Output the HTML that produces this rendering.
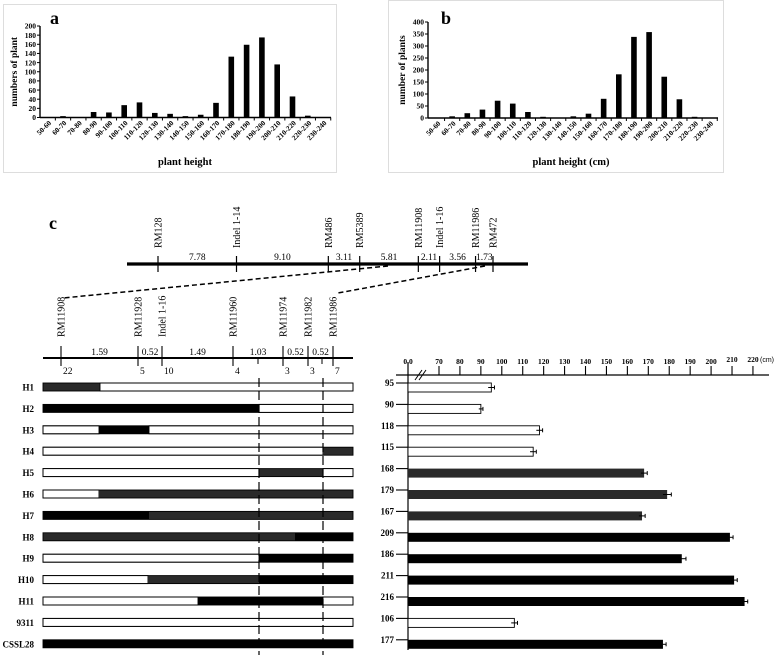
<!DOCTYPE html>
<html><head><meta charset="utf-8">
<style>
html,body{margin:0;padding:0;background:#fff;}
svg{display:block;font-family:"Liberation Serif",serif;}
.b{font-weight:bold;}
</style></head>
<body>
<svg id="fig" width="778" height="655" viewBox="0 0 778 655" xmlns="http://www.w3.org/2000/svg">
<rect x="3.5" y="4.5" width="333" height="168" fill="#fff" stroke="#ddd"/>
<rect x="388.5" y="0.5" width="335" height="172" fill="#fff" stroke="#ddd"/>
<g id="pa"></g>
<g id="pb"></g>
<g id="pc"></g>
<g id="pd"></g>
</svg>
<script>
const NS="http://www.w3.org/2000/svg";
const histCats=["50-60","60-70","70-80","80-90","90-100","100-110","110-120","120-130","130-140","140-150","150-160","160-170","170-180","180-190","190-200","200-210","210-220","220-230","230-240"];
const histA=[0,3,0,12,11,27,33,10,8,3,6,32,133,159,175,116,46,4,0];
const histB=[0,7,20,35,72,60,25,5,0,7,18,80,182,338,358,172,78,5,0];
const ticksA=[0,20,40,60,80,100,120,140,160,180,200];
const ticksB=[0,50,100,150,200,250,300,350,400];
const topMarkers=["RM128","Indel 1-14","RM486","RM5389","RM11908","Indel 1-16","RM11986","RM472"];
const topPos=[0,7.78,16.88,19.99,25.80,27.91,31.47,33.20];
const topDist=["7.78","9.10","3.11","5.81","2.11","3.56","1.73"];
const botMarkers=["RM11908","RM11928","Indel 1-16","RM11960","RM11974","RM11982","RM11986"];
const botX=[61,138,162,233,283,308,333];
const botDist=["1.59","0.52","1.49","1.03","0.52","0.52"];
const botCounts=["22","5","10","4","3","3","7"];
const haploNames=["H1","H2","H3","H4","H5","H6","H7","H8","H9","H10","H11","9311","CSSL28"];
const haploSegs=[
 [[43,100,"d"],[100,353,"w"]],
 [[43,259,"k"],[259,353,"w"]],
 [[43,99,"w"],[99,149,"k"],[149,353,"w"]],
 [[43,323,"w"],[323,353,"d"]],
 [[43,259,"w"],[259,323,"d"],[323,353,"w"]],
 [[43,99,"w"],[99,353,"d"]],
 [[43,149,"k"],[149,353,"d"]],
 [[43,295,"d"],[295,353,"k"]],
 [[43,259,"w"],[259,353,"k"]],
 [[43,148,"w"],[148,259,"d"],[259,353,"k"]],
 [[43,198,"w"],[198,323,"k"],[323,353,"w"]],
 [[43,353,"w"]],
 [[43,353,"k"]]
];
const heightVals=[95,90,118,115,168,179,167,209,186,211,216,106,177];
const heightErr=[1.5,1,1.5,1.5,1.5,2,1.5,1.5,2,1.5,1.5,1.5,1.5];
const heightFill=["w","w","w","w","d","d","d","k","k","k","k","w","k"];
const heightTicks=[70,80,90,100,110,120,130,140,150,160,170,180,190,200,210,220];

function el(tag,attrs,parent,text){const e=document.createElementNS(NS,tag);for(const k in attrs)e.setAttribute(k,attrs[k]);if(text!==undefined)e.textContent=text;parent.appendChild(e);return e;}
const fillOf={w:"#fff",d:"#2a2a2a",k:"#000"};

function hist(g,vals,ticks,cfg){
  const y=v=>cfg.y0-(v/ticks[ticks.length-1])*(cfg.y0-cfg.yTop);
  const x=i=>cfg.x0c+i*cfg.step;
  let t=el("text",{x:cfg.lx,y:cfg.ly,"font-size":18,class:"b"},g,cfg.letter);
  
  
  let ax=el("line",{x1:cfg.ax,y1:cfg.yTop,x2:cfg.ax,y2:cfg.y0,stroke:"#000","stroke-width":1.4},g);
  
  
  let xa=el("line",{x1:cfg.ax,y1:cfg.y0,x2:cfg.xEnd,y2:cfg.y0,stroke:"#000","stroke-width":1.4},g);
  
  
  ticks.forEach(v=>{
    el("line",{x1:cfg.ax-3,y1:y(v),x2:cfg.ax,y2:y(v),stroke:"#000"},g);
    let tl=el("text",{x:cfg.ax-4,y:y(v)+2.7,"font-size":7.5,"text-anchor":"end",class:"b"},g,String(v));
    
    
  });
  vals.forEach((v,i)=>{
    el("line",{x1:x(i)+cfg.step/2,y1:cfg.y0,x2:x(i)+cfg.step/2,y2:cfg.y0+3,stroke:"#000"},g);
    if(v>0){
      let r=el("rect",{x:x(i)-2.8,y:y(v),width:5.6,height:cfg.y0-y(v),fill:"#000"},g);
      
      
    }
    let tl=el("text",{x:0,y:0,"font-size":7.3,"text-anchor":"end",class:"b",transform:`translate(${x(i)+4},${cfg.y0+6}) rotate(-45)`},g,histCats[i]);
    
    
  });
  let xt=el("text",{x:cfg.xtx,y:165,"font-size":10.5,"text-anchor":"middle",class:"b"},g,cfg.xtitle);
  
  
  let yt=el("text",{x:0,y:0,"font-size":9.5,"text-anchor":"middle",class:"b",transform:`translate(${cfg.ytx},${(cfg.y0+cfg.yTop)/2}) rotate(-90)`},g,cfg.ytitle);
  
  
}
hist(document.getElementById("pa"),histA,ticksA,{letter:"a",lx:50,ly:24,ax:40,y0:117.5,yTop:26,x0c:47.7,step:15.3,xEnd:331,xtx:185,xtitle:"plant height",ytx:17,ytitle:"numbers of plant"});
hist(document.getElementById("pb"),histB,ticksB,{letter:"b",lx:441,ly:24,ax:428,y0:118,yTop:22,x0c:437,step:15.15,xEnd:718,xtx:571,xtitle:"plant height (cm)",ytx:405,ytitle:"number of plants"});

const gc=document.getElementById("pc");
let cl=el("text",{x:49,y:229,"font-size":18,class:"b"},gc,"c");


const tx=p=>158+p*(493-158)/33.20;
let tl=el("line",{x1:127,y1:264,x2:528,y2:264,stroke:"#000","stroke-width":3.2},gc);


topMarkers.forEach((m,i)=>{
  const X=tx(topPos[i]);
  el("line",{x1:X,y1:256,x2:X,y2:272,stroke:"#000","stroke-width":1.2},gc);
  let t=el("text",{x:0,y:0,"font-size":10,transform:`translate(${X+3.5},248) rotate(-90)`},gc,m);
  
  
});
topDist.forEach((d,i)=>{
  const X=(tx(topPos[i])+tx(topPos[i+1]))/2;
  let t=el("text",{x:X,y:260,"font-size":9.5,"text-anchor":"middle"},gc,d);
  
  
});
el("line",{x1:388,y1:266,x2:63,y2:298,stroke:"#000","stroke-width":1.5,"stroke-dasharray":"5,3"},gc);
el("line",{x1:485,y1:266,x2:338,y2:293,stroke:"#000","stroke-width":1.5,"stroke-dasharray":"5,3"},gc);
let bl=el("line",{x1:43,y1:358,x2:353,y2:358,stroke:"#000","stroke-width":2},gc);


botMarkers.forEach((m,i)=>{
  const X=botX[i];
  el("line",{x1:X,y1:346,x2:X,y2:366,stroke:"#000","stroke-width":1.1},gc);
  let t=el("text",{x:0,y:0,"font-size":10,transform:`translate(${X+3.5},337) rotate(-90)`},gc,m);
  
  
  let c=el("text",{x:X+2,y:374,"font-size":9.5},gc,botCounts[i]);
  
  
});
[258,322].forEach(X=>el("line",{x1:X,y1:358,x2:X,y2:364,stroke:"#000"},gc));
botDist.forEach((d,i)=>{
  let t=el("text",{x:(botX[i]+botX[i+1])/2,y:355,"font-size":9.5,"text-anchor":"middle"},gc,d);
  
  
});
haploNames.forEach((n,i)=>{
  const Y=387+i*21.4;
  let t=el("text",{x:34,y:Y+3.5,"font-size":9,"text-anchor":"end",class:"b"},gc,n);
  
  
  haploSegs[i].forEach(s=>{
    let r=el("rect",{x:s[0],y:Y-4,width:s[1]-s[0],height:8,fill:fillOf[s[2]],stroke:s[2]==="w"?"#000":"none","stroke-width":0.9},gc);
    
    
  });
  el("rect",{x:43,y:Y-4,width:310,height:8,fill:"none",stroke:"#000","stroke-width":0.9},gc);
});
[259,323].forEach(X=>{
  let d=el("line",{x1:X,y1:378,x2:X,y2:655,stroke:"#000","stroke-width":1.2,"stroke-dasharray":"9,4"},gc);
  
  
});

const gd=document.getElementById("pd");
const hx=v=>439+(v-70)*2.093;
let hax=el("line",{x1:396,y1:375,x2:769,y2:375,stroke:"#000","stroke-width":1.3},gd);


let hay=el("line",{x1:408,y1:362,x2:408,y2:650,stroke:"#000","stroke-width":1.2},gd);


el("line",{x1:408,y1:366,x2:408,y2:375,stroke:"#000"},gd);
let z=el("text",{x:408,y:364,"font-size":7.5,"text-anchor":"middle",class:"b"},gd,"0.0");


el("line",{x1:415,y1:380,x2:422,y2:370,stroke:"#000"},gd);
el("line",{x1:419,y1:380,x2:426,y2:370,stroke:"#000"},gd);
heightTicks.forEach(v=>{
  el("line",{x1:hx(v),y1:366,x2:hx(v),y2:375,stroke:"#000","stroke-width":1.1},gd);
  let t=el("text",{x:hx(v),y:v>=210?362:364,"font-size":7.5,"text-anchor":"middle",class:"b"},gd,String(v));
  
  
});
let cm=el("text",{x:760,y:362,"font-size":7,"font-family":"Liberation Sans,sans-serif"},gd,"(cm)");


heightVals.forEach((v,i)=>{
  const Y=383+i*21.4;
  el("line",{x1:396,y1:Y,x2:408,y2:Y,stroke:"#000","stroke-width":1.1},gd);
  let t=el("text",{x:394,y:Y+3,"font-size":9,"text-anchor":"end",class:"b"},gd,String(v));
  
  
  let r=el("rect",{x:408,y:Y,width:hx(v)-408,height:9,fill:fillOf[heightFill[i]],stroke:"#000","stroke-width":heightFill[i]==="w"?0.9:0},gd);
  
  
  const e=heightErr[i];
  el("line",{x1:hx(v-e),y1:Y+4.5,x2:hx(v+e),y2:Y+4.5,stroke:"#000"},gd);
  el("line",{x1:hx(v+e),y1:Y+2.5,x2:hx(v+e),y2:Y+6.5,stroke:"#000"},gd);
});
</script>
</body></html>
